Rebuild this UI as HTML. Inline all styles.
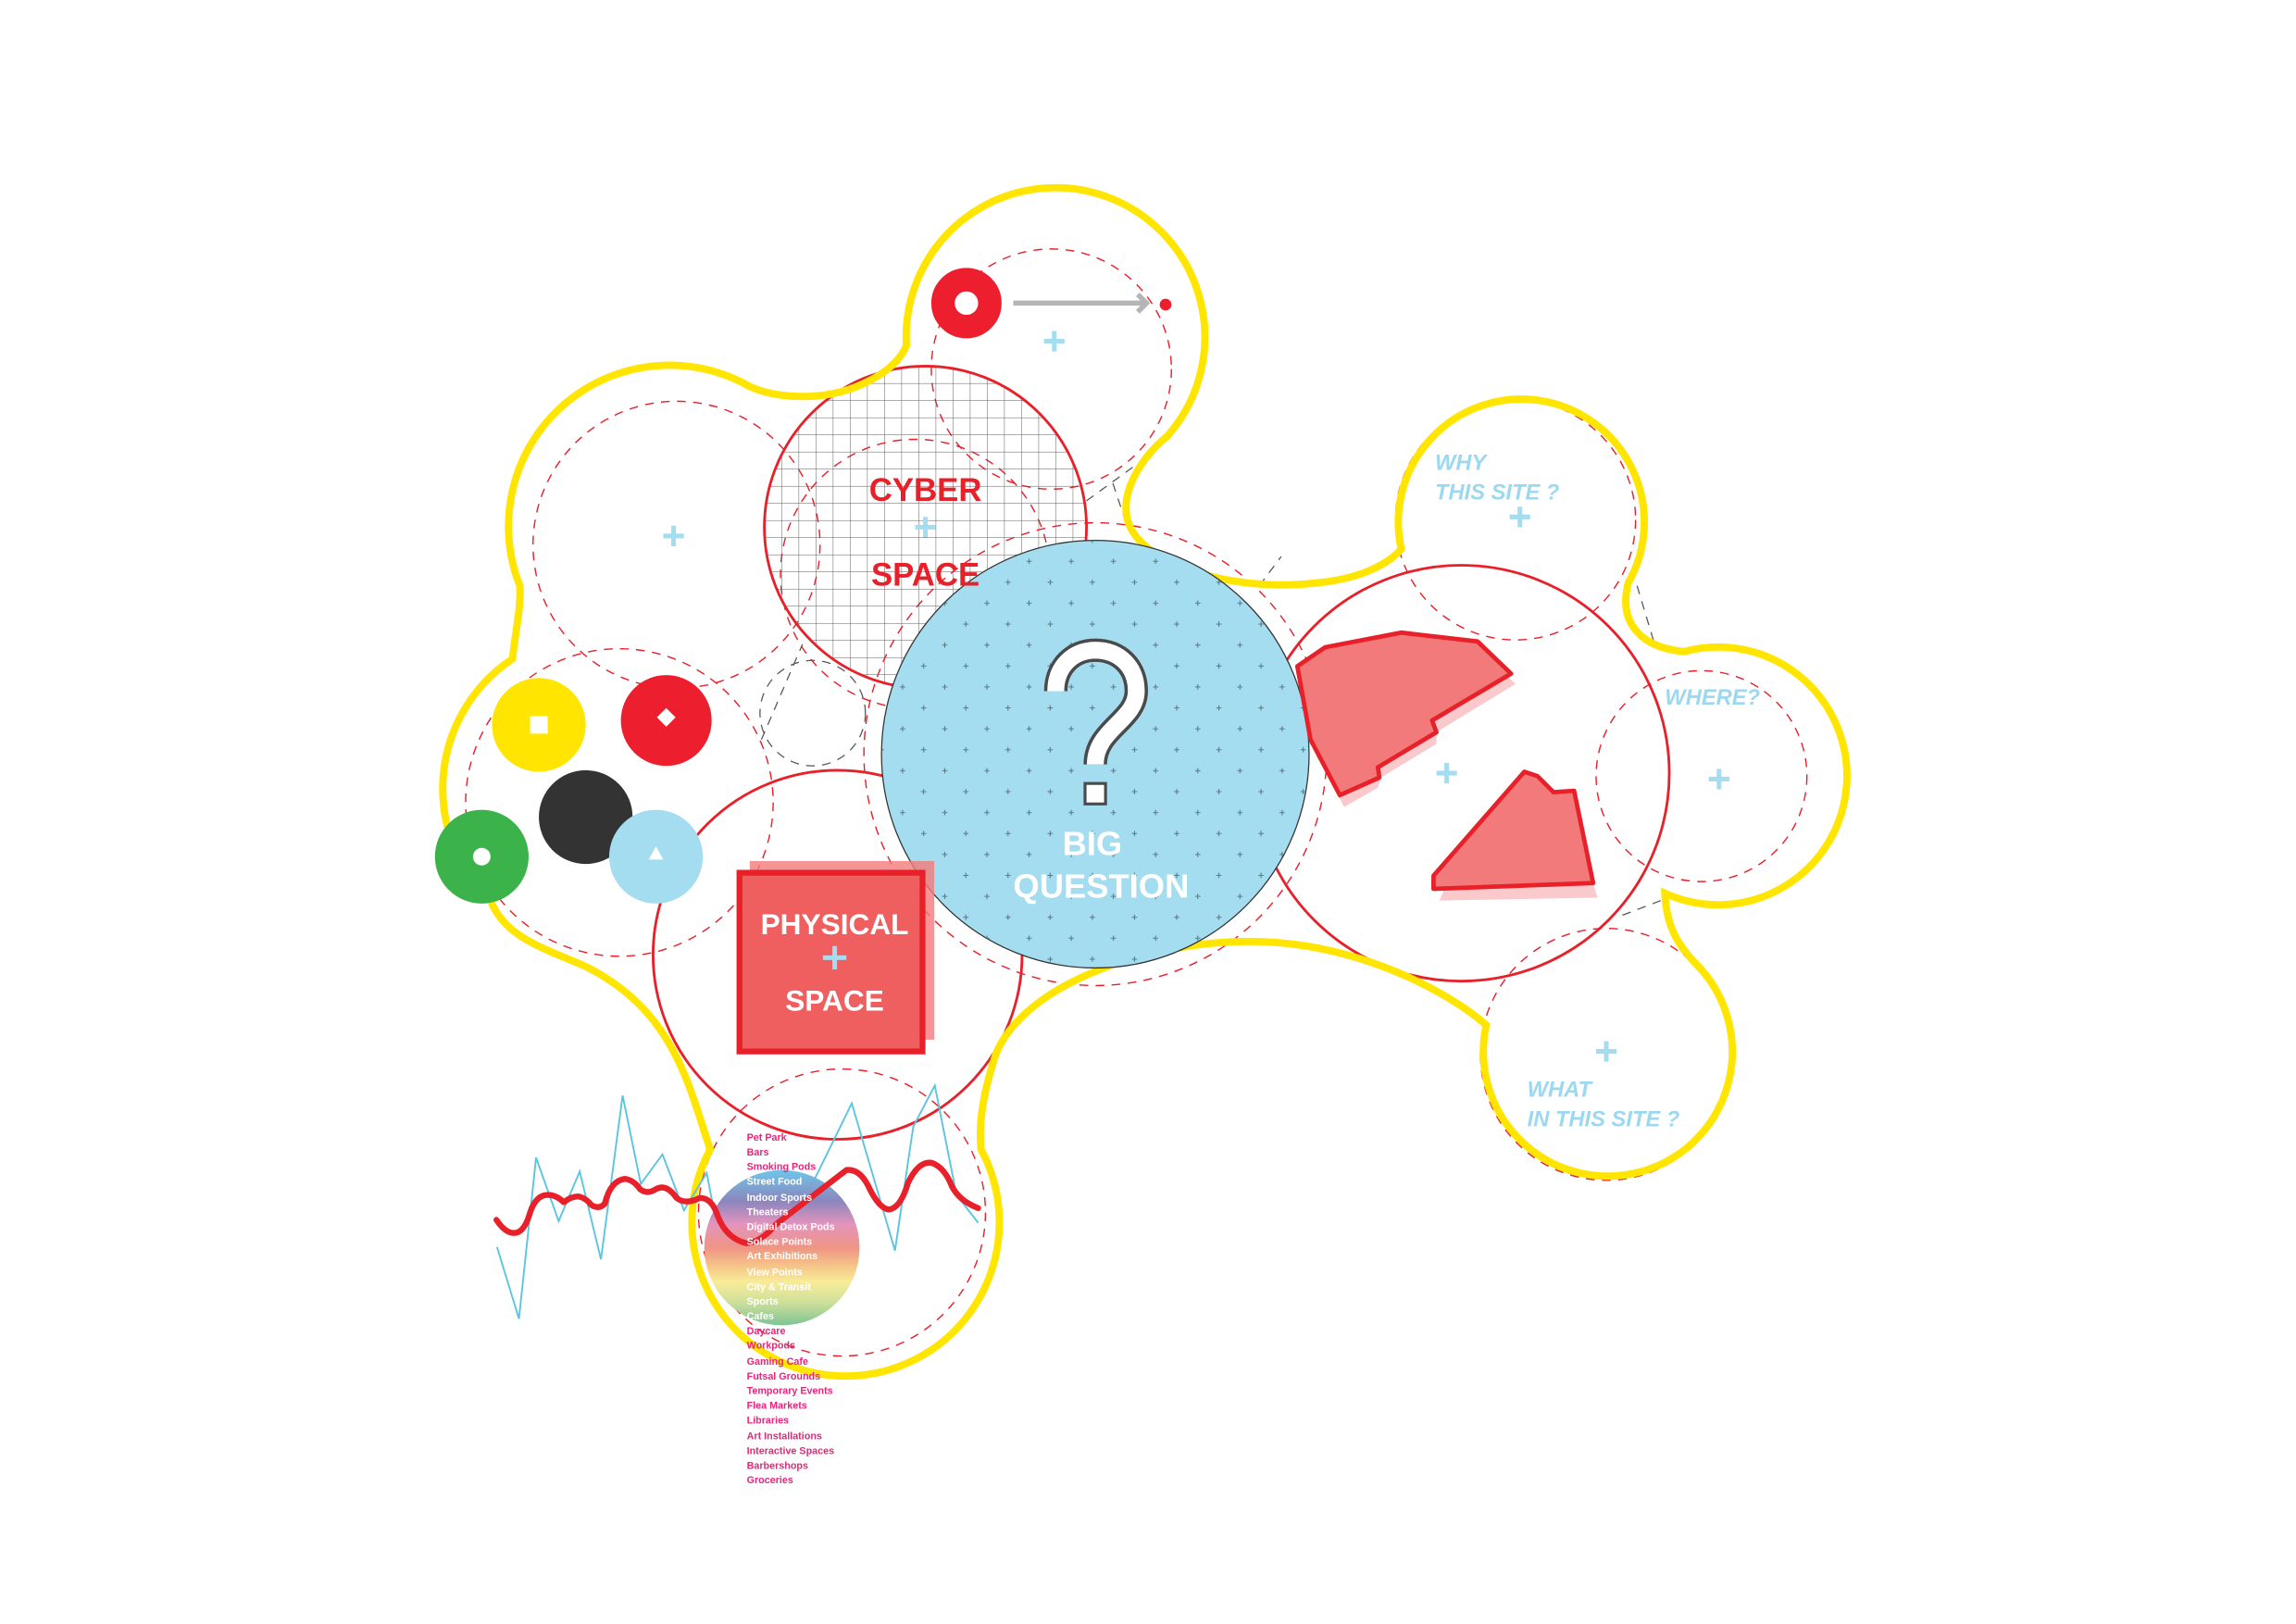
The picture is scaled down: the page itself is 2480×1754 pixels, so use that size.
<!DOCTYPE html>
<html><head><meta charset="utf-8"><style>
html,body{margin:0;padding:0;background:#fff;}
svg{display:block;}
text{font-family:"Liberation Sans",sans-serif;font-weight:bold;}
</style></head><body>
<svg width="2480" height="1754" viewBox="0 0 1568 1109" xmlns="http://www.w3.org/2000/svg">
<defs>
<pattern id="grid" width="11.7" height="11.7" patternUnits="userSpaceOnUse" x="522" y="250">
<path d="M0 0H11.7M0 0V11.7" stroke="#555" stroke-width="0.6" fill="none"/>
</pattern>
<pattern id="plus" width="28.8" height="28.6" patternUnits="userSpaceOnUse" x="602" y="369">
<path d="M12.6 14.3h3.6M14.4 12.5v3.6M-1.8 0h3.6M0 -1.8v3.6M27 0h3.6M28.8 -1.8v3.6M-1.8 28.6h3.6M0 26.8v3.6M27 28.6h3.6M28.8 26.8v3.6" stroke="#5a7a88" stroke-width="0.7" fill="none"/>
</pattern>
<linearGradient id="rb" x1="0" y1="0" x2="0" y2="1">
<stop offset="0" stop-color="#6ec6ea"/>
<stop offset="0.2" stop-color="#8b86bd"/>
<stop offset="0.35" stop-color="#e494bd"/>
<stop offset="0.5" stop-color="#ef9584"/>
<stop offset="0.62" stop-color="#f5c588"/>
<stop offset="0.72" stop-color="#f8ec98"/>
<stop offset="0.85" stop-color="#cfe09a"/>
<stop offset="1" stop-color="#7fc495"/>
</linearGradient>
</defs>

<g fill="none" stroke="#e8202a" stroke-width="0.9" stroke-dasharray="6 5">
<circle cx="423" cy="548" r="105"/>
<circle cx="462" cy="372" r="98"/>
<circle cx="718" cy="252" r="82"/>
<circle cx="1035" cy="355" r="82"/>
<circle cx="1162" cy="530" r="72"/>
<circle cx="1097" cy="720" r="86"/>
<circle cx="575" cy="828" r="98"/>
<circle cx="748" cy="515" r="158"/>
<circle cx="625" cy="392" r="92"/>
</g>
<g fill="none" stroke="#555" stroke-width="0.8" stroke-dasharray="6 5">
<circle cx="555" cy="487" r="36"/>
<path d="M742 342L775 318M760 330L770 360M520 505L548 440M1108 625L1142 612M1118 400L1130 440M860 400L875 380"/>
</g>

<circle cx="632" cy="360" r="110" fill="url(#grid)" stroke="#e8202a" stroke-width="1.8"/>
<circle cx="572" cy="652" r="126" fill="none" stroke="#e8202a" stroke-width="1.8"/>
<circle cx="998" cy="528" r="142" fill="none" stroke="#e8202a" stroke-width="1.8"/>

<path d="M619 236 A102 102 0 1 1 797 298 C780 312 765 335 770 355 C778 385 840 405 900 398 C930 395 948 385 957 375 A84 84 0 1 1 1112 398 C1105 425 1120 442 1150 445 A88 88 0 1 1 1137 610 C1138 635 1148 648 1160 660 A85 85 0 1 1 1015 700 C990 678 930 645 860 643 C790 641 700 670 680 720 C672 745 668 765 670 785 A105 105 0 1 1 485 785 C470 740 460 690 400 660 C370 647 345 640 335 615 A106 106 0 0 1 350 450 C352 430 356 415 355 400 A110 110 0 0 1 512 264 C530 272 560 274 585 264 C602 257 614 248 619 236 Z" fill="none" stroke="#ffe500" stroke-width="5"/>

<circle cx="748" cy="515" r="146" fill="#a4dcf0" stroke="#333" stroke-width="0.8"/>
<circle cx="748" cy="515" r="145.5" fill="url(#plus)"/>
<path d="M721 472 C721 455 733 444 748 444 C764 444 776 455 776 472 C776 492 748 498 748 522" fill="none" stroke="#4a4a4a" stroke-width="16"/>
<path d="M721 472 C721 455 733 444 748 444 C764 444 776 455 776 472 C776 492 748 498 748 522" fill="none" stroke="#fff" stroke-width="11.5"/>
<rect x="741" y="535" width="14" height="14" fill="#fff" stroke="#4a4a4a" stroke-width="2"/>
<text x="746" y="584" font-size="23" fill="#fff" text-anchor="middle">BIG</text>
<text x="752" y="613" font-size="23" fill="#fff" text-anchor="middle">QUESTION</text>

<text x="632" y="342" font-size="22" fill="#e8202a" text-anchor="middle">CYBER</text>
<text x="632" y="400" font-size="22" fill="#e8202a" text-anchor="middle">SPACE</text>

<rect x="512" y="588" width="126" height="122" fill="#f47a7a" opacity="0.8"/>
<rect x="505" y="596" width="125" height="122" fill="#f05f5f" stroke="#e8202a" stroke-width="4"/>
<text x="570" y="638" font-size="20" fill="#fff" text-anchor="middle">PHYSICAL</text>
<text x="570" y="690" font-size="20" fill="#fff" text-anchor="middle">SPACE</text>

<polygon points="889,467 908,450 960,440 1012,446 1035,467 981,500 981,508 943,531 941,538 918,551 898,513" fill="#f9c9cc"/>
<polygon points="886,455 905,442 957,432 1009,438 1032,460 978,492 981,500 941,524 942,531 915,543 895,505" fill="#f27a7a" stroke="#e8202a" stroke-width="3" stroke-linejoin="round"/>
<polygon points="983,615 995,587 1043,537 1053,540 1075,562 1091,613" fill="#f9c9cc"/>
<polygon points="979,598 979,607 1088,603 1075,540 1061,541 1050,530 1041,527" fill="#f27a7a" stroke="#e8202a" stroke-width="3" stroke-linejoin="round"/>

<g font-style="italic" font-size="15" fill="#9cd8f0">
<text x="980" y="321">WHY</text>
<text x="980" y="341">THIS SITE ?</text>
<text x="1137" y="481">WHERE?</text>
<text x="1043" y="749">WHAT</text>
<text x="1043" y="769">IN THIS SITE ?</text>
</g>

<g stroke="#a4dcf0" stroke-width="3.2" fill="none">
<path d="M632 353v14M625 360h14"/>
<path d="M570 646v16M562 654h16"/>
<path d="M460 359v14M453 366h14"/>
<path d="M720 226v14M713 233h14"/>
<path d="M1038 346v14M1031 353h14"/>
<path d="M988 521v14M981 528h14"/>
<path d="M1174 525v14M1167 532h14"/>
<path d="M1097 711v14M1090 718h14"/>
</g>

<circle cx="660" cy="207" r="16" fill="none" stroke="#ed1f2e" stroke-width="16"/>
<path d="M692 207H783M777 201L783 207L777 213" stroke="#b5b5b5" stroke-width="3.5" fill="none"/>
<circle cx="796" cy="208" r="4" fill="#ed1f2e"/>

<circle cx="368" cy="495" r="32" fill="#ffe500"/>
<rect x="362" y="489" width="12" height="12" fill="#fff"/>
<circle cx="455" cy="492" r="31" fill="#ed1f2e"/>
<rect x="449" y="486" width="9" height="9" fill="#fff" transform="rotate(45 455 492)"/>
<circle cx="400" cy="558" r="32" fill="#333"/>
<circle cx="329" cy="585" r="32" fill="#3bb34a"/>
<circle cx="329" cy="585" r="6" fill="#fff"/>
<circle cx="448" cy="585" r="32" fill="#a4dcf0"/>
<polygon points="448,578 453,587 443,587" fill="#fff"/>

<polyline points="339.4,851.5 354.4,900.6 366.1,790.5 381.5,833.9 395.9,800 410.4,860 425.2,748.1 437.6,808.5 452.4,788.3 467.1,826.5 482.6,801 487.5,826.5 556.8,804.2 581.7,753.4 611.2,854 623.7,769.3 638.4,741.3 653.2,815.9 668,835" fill="none" stroke="#5bc5e0" stroke-width="1.2"/>

<circle cx="534" cy="852" r="53" fill="url(#rb)"/>

<path d="M339 833 Q345 842 351 842 Q358 842 362 828 Q366 816 374 816 Q380 816 385 821 Q390 817 395 817 Q400 818 404 823 Q409 826 413 822 Q417 806 427 805 Q433 806 437 812 Q442 816 448 812 Q455 808 462 818 Q468 823 478 818 Q486 818 490 830 Q496 846 510 849 Q520 848 530 836 L578 799 Q587 798 593 810 Q600 825 607 826 Q615 825 620 808 Q627 793 636 794 Q645 797 650 810 Q655 820 668 825" fill="none" stroke="#e8202a" stroke-width="4" stroke-linejoin="round" stroke-linecap="round"/>

<g font-size="6.8" fill="#e6267a">
<text x="510" y="779">Pet Park</text>
<text x="510" y="789">Bars</text>
<text x="510" y="799">Smoking Pods</text>
<text x="510" y="809" fill="#fff">Street Food</text>
<text x="510" y="820" fill="#fff">Indoor Sports</text>
<text x="510" y="830" fill="#fff">Theaters</text>
<text x="510" y="840" fill="#fff">Digital Detox Pods</text>
<text x="510" y="850" fill="#fff">Solace Points</text>
<text x="510" y="860" fill="#fff">Art Exhibitions</text>
<text x="510" y="871" fill="#fff">View Points</text>
<text x="510" y="881" fill="#fff">City &amp; Transit</text>
<text x="510" y="891" fill="#fff">Sports</text>
<text x="510" y="901" fill="#fff">Cafes</text>
<text x="510" y="911">Daycare</text>
<text x="510" y="921">Workpods</text>
<text x="510" y="932">Gaming Cafe</text>
<text x="510" y="942">Futsal Grounds</text>
<text x="510" y="952">Temporary Events</text>
<text x="510" y="962">Flea Markets</text>
<text x="510" y="972">Libraries</text>
<text x="510" y="983">Art Installations</text>
<text x="510" y="993">Interactive Spaces</text>
<text x="510" y="1003">Barbershops</text>
<text x="510" y="1013">Groceries</text>
</g>
</svg>
</body></html>
